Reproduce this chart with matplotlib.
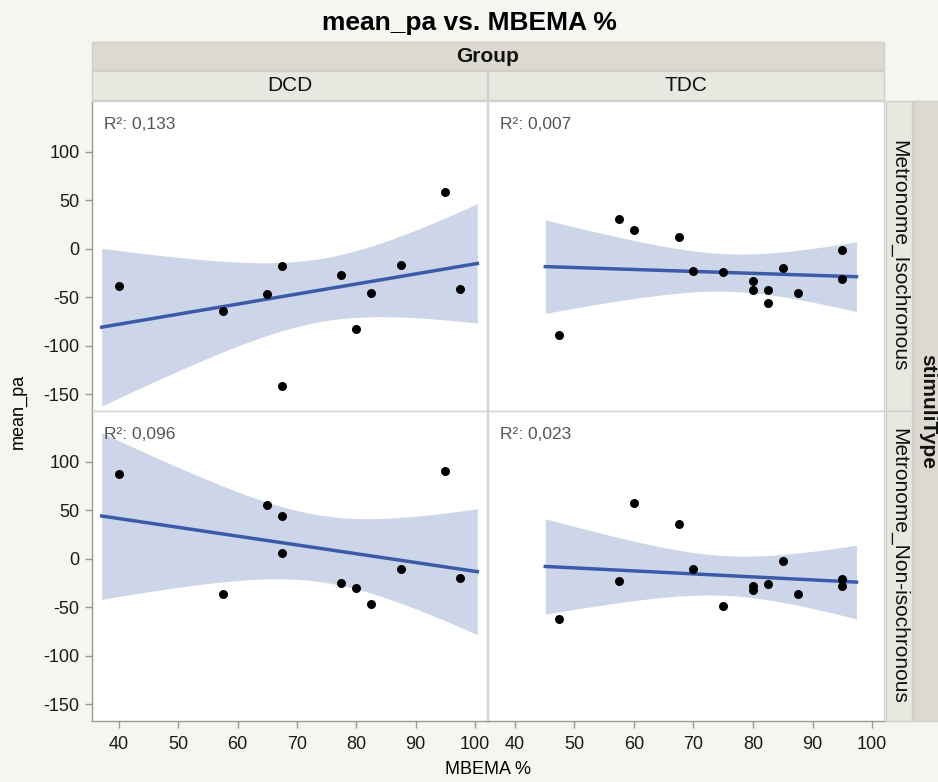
import numpy as np
import matplotlib
matplotlib.use("Agg")
import matplotlib.pyplot as plt
from matplotlib.patches import Rectangle

plt.rcParams['font.family'] = ['Liberation Sans', 'DejaVu Sans']
plt.rcParams['axes.unicode_minus'] = False

# data
dcd_x = [40, 57.5, 65, 67.5, 67.5, 77.5, 80, 82.5, 87.5, 95, 97.5]
dcd_iso_y = [-38, -64, -47, -18, -141, -27, -83, -46, -17, 58, -41]
dcd_noniso_y = [87, -36, 55, 44, 6, -25, -30, -47, -11, 90, -20]

tdc_iso_x = [47.5, 57.5, 60, 67.5, 70, 75, 80, 80, 82.5, 82.5, 85, 87.5, 95, 95]
tdc_iso_y = [-89, 31, 19.5, 12, -23, -24, -33, -42, -42.5, -56, -19.5, -45.5, -1, -31]

tdc_noniso_x = [47.5, 57.5, 60, 67.5, 70, 75, 80, 80, 82.5, 85, 87.5, 95, 95]
tdc_noniso_y = [-62, -23, 57, 36, -11, -49, -28, -32.5, -26, -2, -36, -21, -28]

groups = ['DCD', 'TDC']
stimuli = ['Metronome_Isochronous', 'Metronome_Non-isochronous']
r2_labels = [['R²: 0,133', 'R²: 0,007'], ['R²: 0,096', 'R²: 0,023']]
x_ticks = [40, 50, 60, 70, 80, 90, 100]
y_ticks = [100, 50, 0, -50, -100, -150]

panels = [[(dcd_x, dcd_iso_y), (tdc_iso_x, tdc_iso_y)],
          [(dcd_x, dcd_noniso_y), (tdc_noniso_x, tdc_noniso_y)]]

# two-sided 95% t values by degrees of freedom
t95 = {9: 2.262, 10: 2.228, 11: 2.201, 12: 2.179, 13: 2.160, 14: 2.145}

W, H = 938, 782
BG = '#f5f5f1'
STRIP_DARK = '#dcdad0'
STRIP_LIGHT = '#e8e7e0'
EDGE = '#cfcec8'
LINE = '#3b5ba9'
BAND = '#cdd6e8'

fig = plt.figure(figsize=(W / 100, H / 100), dpi=100, facecolor=BG)


def fr(x, y, w, h):
    return [x / W, 1 - (y + h) / H, w / W, h / H]


def strip(x, y, w, h, color, text, rot=0, bold=False, size=15):
    r = Rectangle((x / W, 1 - (y + h) / H), w / W, h / H, transform=fig.transFigure,
                  facecolor=color, edgecolor=EDGE, lw=1)
    fig.add_artist(r)
    fig.text((x + w / 2) / W, 1 - (y + h / 2) / H, text, rotation=rot,
             ha='center', va='center', fontsize=size,
             fontweight='bold' if bold else 'normal', color='#111111')


fig.text(469 / W, 1 - 23 / H, 'mean_pa vs. MBEMA %', ha='center', va='center',
         fontsize=19, fontweight='bold')
strip(92, 42, 792, 28, STRIP_DARK, 'Group', bold=True, size=15)
strip(92, 71, 395, 29, STRIP_LIGHT, groups[0])
strip(488, 71, 396, 29, STRIP_LIGHT, groups[1])
strip(886, 101, 26, 310, STRIP_LIGHT, stimuli[0], rot=-90)
strip(886, 411, 26, 310, STRIP_LIGHT, stimuli[1], rot=-90)
strip(913, 101, 30, 620, STRIP_DARK, 'stimuliType', rot=-90, bold=True, size=15)

cols = [(92, 395), (488, 396)]
rows = [(101, 310), (411, 310)]

for i, (ry, rh) in enumerate(rows):
    for j, (cx, cw) in enumerate(cols):
        ax = fig.add_axes(fr(cx, ry, cw, rh))
        x = np.array(panels[i][j][0], dtype=float)
        y = np.array(panels[i][j][1], dtype=float)
        n = len(x)

        # least squares fit with 95% confidence band of the mean
        b, a = np.polyfit(x, y, 1)
        resid = y - (a + b * x)
        s = np.sqrt(np.sum(resid ** 2) / (n - 2))
        ext = 0.05 * (x.max() - x.min())
        xs = np.linspace(x.min() - ext, x.max() + ext, 200)
        fit = a + b * xs
        se = s * np.sqrt(1 / n + (xs - x.mean()) ** 2 / np.sum((x - x.mean()) ** 2))
        ci = t95[n - 2] * se
        ax.fill_between(xs, fit - ci, fit + ci, color=BAND, lw=0, zorder=1)
        ax.plot(xs, fit, color=LINE, lw=2.5, zorder=2)
        ax.scatter(x, y, s=42, color='black', zorder=3, lw=0)

        ax.set_xlim(35.5, 102)
        ax.set_ylim(-167, 152)
        ax.set_facecolor('white')
        for side in ax.spines:
            ax.spines[side].set_color('#d4d4d4')
            ax.spines[side].set_linewidth(1)
        ax.text(0.03, 0.925, r2_labels[i][j], transform=ax.transAxes,
                fontsize=12.5, color='#555555', va='center', ha='left')

        ax.set_xticks(x_ticks)
        ax.set_yticks(y_ticks)
        ax.tick_params(length=5, width=1, color='#999999', labelsize=13,
                       labelcolor='#1a1a1a')
        ax.tick_params(axis='x', pad=6)
        ax.tick_params(axis='y', pad=4)
        if j == 0:
            ax.spines['left'].set_color('#999999')
        else:
            ax.tick_params(axis='y', left=False, labelleft=False)
        if i == 1:
            ax.spines['bottom'].set_color('#999999')
        else:
            ax.tick_params(axis='x', bottom=False, labelbottom=False)

fig.text(488 / W, 1 - 770 / H, 'MBEMA %', ha='center', va='center', fontsize=13)
fig.text(18 / W, 1 - 411 / H, 'mean_pa', ha='center', va='center', fontsize=13,
         rotation=90)

fig.savefig('out.png', dpi=100, facecolor=BG)
